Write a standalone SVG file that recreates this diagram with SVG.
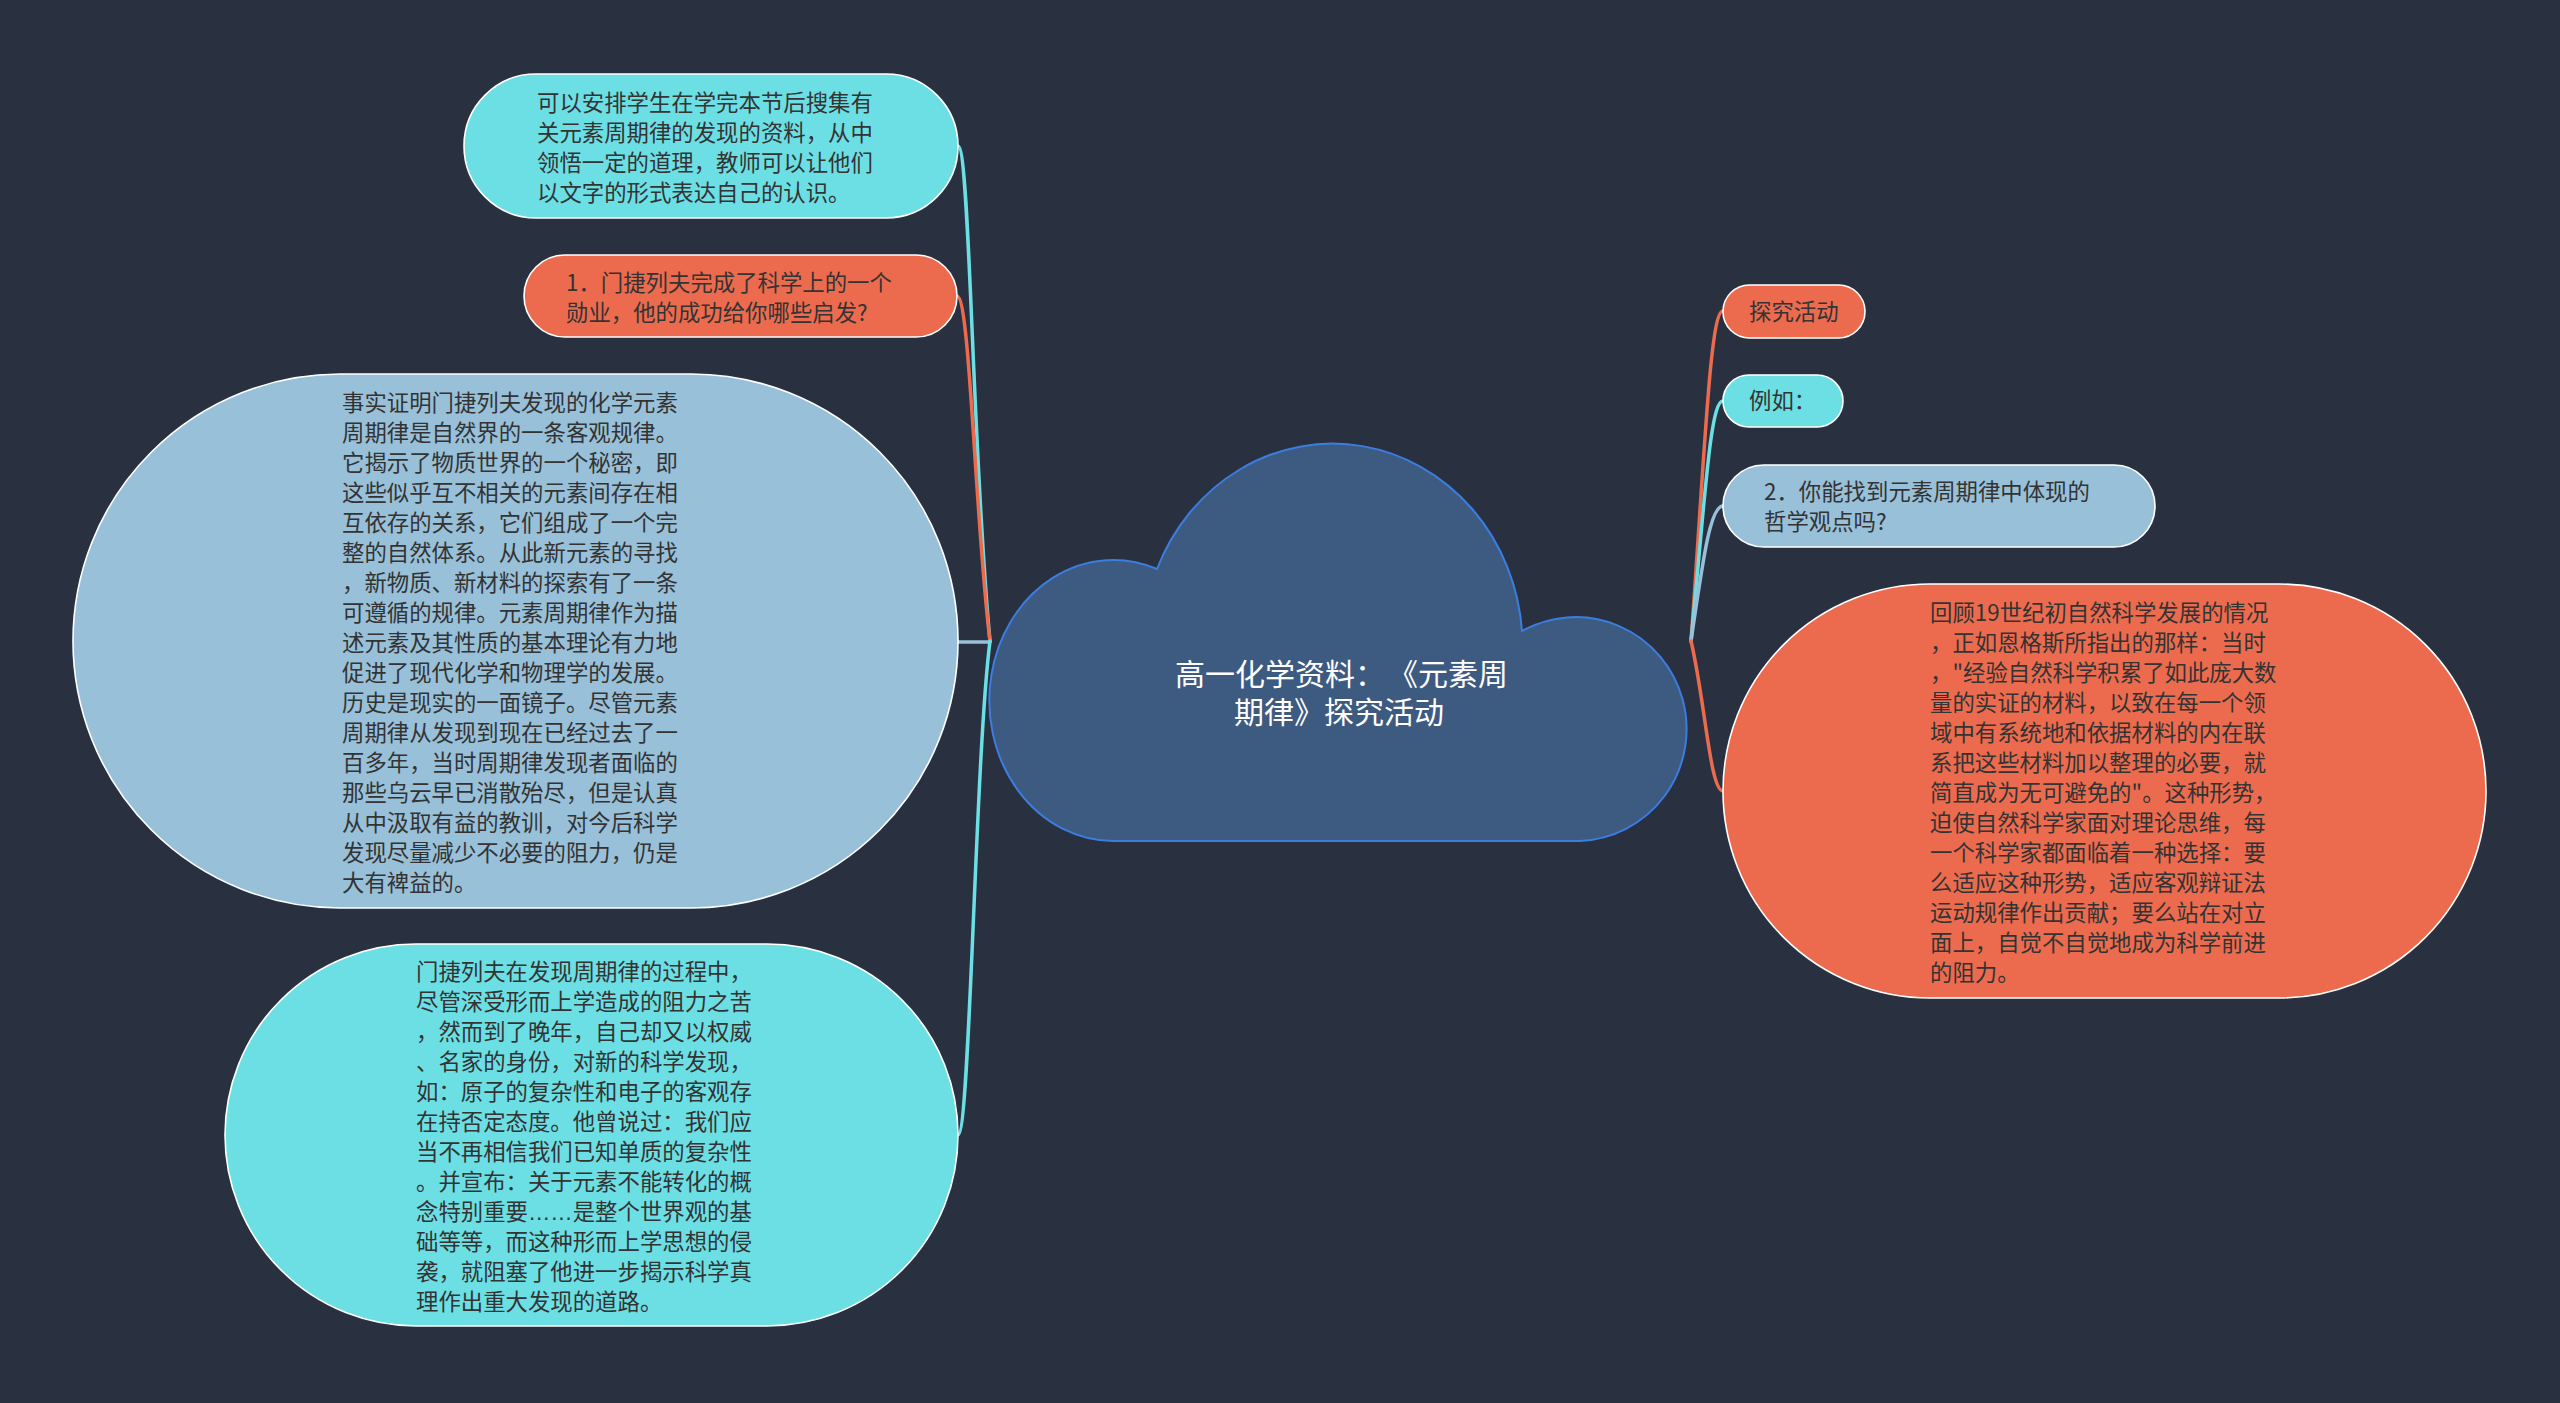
<svg xmlns="http://www.w3.org/2000/svg" width="2560" height="1403" viewBox="0 0 2560 1403">
<style>
.bg{fill:#293140}
.node{stroke:#ffffff;stroke-width:1.6}
.cyan{fill:#6cdfe4}
.orange{fill:#ec6b4e}
.blue{fill:#98c0d9}
.cloud{fill:#3d5a80;stroke:#3b7de0;stroke-width:2}
text{text-spacing-trim:space-all}
.t{font-family:"Noto Sans CJK SC","Noto Sans CJK JP",sans-serif;font-size:22.4px;fill:#333333}
.el{font-family:"Liberation Sans",sans-serif}
.title{font-family:"Noto Sans CJK SC","Noto Sans CJK JP",sans-serif;font-size:30px;fill:#ffffff}
.c{fill:none;stroke-width:3.5;stroke-linecap:round}
.cc{stroke:#6cdfe4}
.co{stroke:#ec6b4e}
.cb{stroke:#98c0d9}
</style>
<rect class="bg" x="0" y="0" width="2560" height="1403"/>

<g id="connectors">
  <path class="c cc" d="M990 641 C972 450 970 146 958 146"/>
  <path class="c co" d="M990 641 C975 520 970 296 957 296"/>
  <path class="c cb" d="M990 642 L958 642"/>
  <path class="c cc" d="M990 641 C975 760 970 1135 958 1135"/>
  <path class="c co" d="M1691 641 C1705 450 1710 311 1723 311"/>
  <path class="c cc" d="M1691 641 C1705 500 1710 401 1723 401"/>
  <path class="c cb" d="M1691 641 C1703 560 1710 506 1723 506"/>
  <path class="c co" d="M1691 641 C1705 700 1710 791 1723 791"/>
</g>

<g id="root">
  <path class="cloud" d="M1113 841 A124 140.5 0 1 1 1157 569 A190 203 0 0 1 1522 631 A111 112 0 1 1 1580 841 Z"/>
  <text class="title" x="1175" y="685">高一化学资料：</text>
  <text class="title" x="1388" y="685">《元素周</text>
  <text class="title" x="1339" y="723" text-anchor="middle">期律》探究活动</text>
</g>

<g id="n1">
  <rect class="node cyan" x="464" y="74" width="494" height="144" rx="72" ry="72"/>
  <text class="t" x="537" y="111">可以安排学生在学完本节后搜集有</text>
  <text class="t" x="537" y="141">关元素周期律的发现的资料，从中</text>
  <text class="t" x="537" y="171">领悟一定的道理，教师可以让他们</text>
  <text class="t" x="537" y="201">以文字的形式表达自己的认识。</text>
</g>

<g id="n2">
  <rect class="node orange" x="524" y="255" width="433" height="82" rx="41" ry="41"/>
  <text class="t" x="566" y="291">1．门捷列夫完成了科学上的一个</text>
  <text class="t" x="566" y="321">勋业，他的成功给你哪些启发?</text>
</g>

<g id="n3">
  <rect class="node blue" x="73" y="374" width="885" height="534" rx="267" ry="267"/>
  <text class="t" x="342" y="411">事实证明门捷列夫发现的化学元素</text>
  <text class="t" x="342" y="441">周期律是自然界的一条客观规律。</text>
  <text class="t" x="342" y="471">它揭示了物质世界的一个秘密，即</text>
  <text class="t" x="342" y="501">这些似乎互不相关的元素间存在相</text>
  <text class="t" x="342" y="531">互依存的关系，它们组成了一个完</text>
  <text class="t" x="342" y="561">整的自然体系。从此新元素的寻找</text>
  <text class="t" x="342" y="591">，新物质、新材料的探索有了一条</text>
  <text class="t" x="342" y="621">可遵循的规律。元素周期律作为描</text>
  <text class="t" x="342" y="651">述元素及其性质的基本理论有力地</text>
  <text class="t" x="342" y="681">促进了现代化学和物理学的发展。</text>
  <text class="t" x="342" y="711">历史是现实的一面镜子。尽管元素</text>
  <text class="t" x="342" y="741">周期律从发现到现在已经过去了一</text>
  <text class="t" x="342" y="771">百多年，当时周期律发现者面临的</text>
  <text class="t" x="342" y="801">那些乌云早已消散殆尽，但是认真</text>
  <text class="t" x="342" y="831">从中汲取有益的教训，对今后科学</text>
  <text class="t" x="342" y="861">发现尽量减少不必要的阻力，仍是</text>
  <text class="t" x="342" y="891">大有裨益的。</text>
</g>

<g id="n4">
  <rect class="node cyan" x="225" y="944" width="733" height="382" rx="191" ry="191"/>
  <text class="t" x="416" y="980">门捷列夫在发现周期律的过程中，</text>
  <text class="t" x="416" y="1010">尽管深受形而上学造成的阻力之苦</text>
  <text class="t" x="416" y="1040">，然而到了晚年，自己却又以权威</text>
  <text class="t" x="416" y="1070">、名家的身份，对新的科学发现，</text>
  <text class="t" x="416" y="1100">如：原子的复杂性和电子的客观存</text>
  <text class="t" x="416" y="1130">在持否定态度。他曾说过：我们应</text>
  <text class="t" x="416" y="1160">当不再相信我们已知单质的复杂性</text>
  <text class="t" x="416" y="1190">。并宣布：关于元素不能转化的概</text>
  <text class="t" x="416" y="1220">念特别重要<tspan class="el">……</tspan>是整个世界观的基</text>
  <text class="t" x="416" y="1250">础等等，而这种形而上学思想的侵</text>
  <text class="t" x="416" y="1280">袭，就阻塞了他进一步揭示科学真</text>
  <text class="t" x="416" y="1310">理作出重大发现的道路。</text>
</g>

<g id="n5">
  <rect class="node orange" x="1723" y="285" width="142" height="53" rx="26.5" ry="26.5"/>
  <text class="t" x="1749" y="320">探究活动</text>
</g>

<g id="n6">
  <rect class="node cyan" x="1723" y="375" width="120" height="52" rx="26" ry="26"/>
  <text class="t" x="1749" y="409">例如：</text>
</g>

<g id="n7">
  <rect class="node blue" x="1723" y="465" width="432" height="82" rx="41" ry="41"/>
  <text class="t" x="1764" y="500">2．你能找到元素周期律中体现的</text>
  <text class="t" x="1764" y="530">哲学观点吗?</text>
</g>

<g id="n8">
  <rect class="node orange" x="1723" y="584" width="763" height="414" rx="207" ry="207"/>
  <text class="t" x="1930" y="621">回顾19世纪初自然科学发展的情况</text>
  <text class="t" x="1930" y="651">，正如恩格斯所指出的那样：当时</text>
  <text class="t" x="1930" y="681">，"经验自然科学积累了如此庞大数</text>
  <text class="t" x="1930" y="711">量的实证的材料，以致在每一个领</text>
  <text class="t" x="1930" y="741">域中有系统地和依据材料的内在联</text>
  <text class="t" x="1930" y="771">系把这些材料加以整理的必要，就</text>
  <text class="t" x="1930" y="801">简直成为无可避免的"。这种形势，</text>
  <text class="t" x="1930" y="831">迫使自然科学家面对理论思维，每</text>
  <text class="t" x="1930" y="861">一个科学家都面临着一种选择：要</text>
  <text class="t" x="1930" y="891">么适应这种形势，适应客观辩证法</text>
  <text class="t" x="1930" y="921">运动规律作出贡献；要么站在对立</text>
  <text class="t" x="1930" y="951">面上，自觉不自觉地成为科学前进</text>
  <text class="t" x="1930" y="981">的阻力。</text>
</g>
</svg>
